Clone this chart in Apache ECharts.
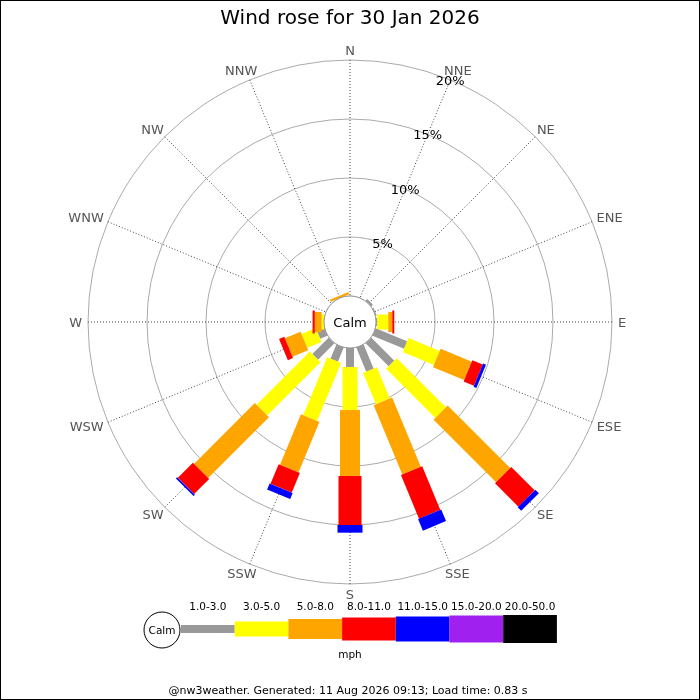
<!DOCTYPE html>
<html><head><meta charset="utf-8">
<script src="https://cdn.jsdelivr.net/npm/echarts@6/dist/echarts.min.js"></script>
<style>
html,body{margin:0;padding:0;background:#fff}
#c{width:700px;height:700px}
#f{position:absolute;left:0;top:0;width:700px;height:700px;box-sizing:border-box;border:1px solid #000;pointer-events:none}
</style>
</head><body><div id="c"></div><div id="f"></div>
<script>
// ---- data ----
const directions = ['N','NNE','NE','ENE','E','ESE','SE','SSE','S','SSW','SW','WSW','W','WNW','NW','NNW'];
const speedBins = ['1.0-3.0','3.0-5.0','5.0-8.0','8.0-11.0','11.0-15.0','15.0-20.0','20.0-50.0'];
// percentage of time per direction, per speed bin (mph)
const pct_1_3   = [0, 0, 0.2, 0.1, 0.1, 2.9, 2.77, 2.22, 1.61, 1.3, 1.97, 0.68, 0, 0, 0, 0];
const pct_3_5   = [0, 0, 0, 0, 0.94, 2.86, 5.89, 2.86, 3.64, 5.32, 6.39, 1.3, 0.2, 0, 0, 0];
const pct_5_8   = [0, 0, 0, 0, 0.34, 2.86, 7.49, 6.35, 5.6, 4.63, 7.29, 1.45, 0.58, 0, 0, 0.2];
const pct_8_11  = [0, 0, 0, 0, 0.17, 0.95, 2.8, 4.0, 4.15, 1.79, 1.8, 0.47, 0.19, 0, 0, 0];
const pct_11_15 = [0, 0, 0, 0, 0, 0.26, 0.42, 1.07, 0.65, 0.56, 0.15, 0, 0, 0, 0, 0];
const pct_15_20 = [0, 0, 0, 0, 0, 0, 0, 0, 0, 0, 0, 0, 0, 0, 0, 0];
const pct_20_50 = [0, 0, 0, 0, 0, 0, 0, 0, 0, 0, 0, 0, 0, 0, 0, 0];
const radialTicks = [5, 10, 15, 20];
const calmLabel = 'Calm';
const unitLabel = 'mph';
const titleText = 'Wind rose for 30 Jan 2026';
const footerText = '@nw3weather. Generated: 11 Aug 2026 09:13; Load time: 0.83 s';

// ---- style ----
const binSeries = [pct_1_3, pct_3_5, pct_5_8, pct_8_11, pct_11_15, pct_15_20, pct_20_50];
const binColors = ['#999999', '#ffff00', '#ffa500', '#ff0000', '#0000ff', '#a020f0', '#000000'];
const binWidths = [8, 15, 20, 23, 25, 27, 28];
const FONT = 'DejaVu Sans';
const CX = 350, CY = 322, R_IN = 26, R_OUT = 262;
const TY = 1.2; // small vertical text nudge
const STEP = 360 / directions.length;

// build segments [end, angle, start, binIndex]
const segs = [];
directions.forEach((d, i) => {
  let acc = 0;
  binSeries.forEach((arr, b) => {
    const v = arr[i];
    if (v > 0) { segs.push([acc + v, i * STEP, acc, b]); }
    acc += v;
  });
});

const measureCtx = document.createElement('canvas').getContext('2d');
function textW(t, size) { measureCtx.font = size + 'px ' + FONT; return measureCtx.measureText(t).width; }

const chart = echarts.init(document.getElementById('c'), null, {renderer: 'canvas'});

// legend graphics
const legendEls = [];
const LX = 181, LW = 53.7, LY = 629;
legendEls.push({type: 'circle', shape: {cx: 162, cy: 630, r: 18}, style: {fill: '#fff', stroke: '#000', lineWidth: 1}, z: 100});
legendEls.push({type: 'text', x: 162, y: 630 + TY, style: {text: calmLabel, font: '10.5px ' + FONT, fill: '#000', align: 'center', verticalAlign: 'middle'}, z: 101});
speedBins.forEach((lab, i) => {
  legendEls.push({type: 'rect', shape: {x: LX + i * LW, y: LY - binWidths[i] / 2, width: LW, height: binWidths[i]}, style: {fill: binColors[i]}, z: 100});
  legendEls.push({type: 'text', x: LX + i * LW + LW / 2, y: 606 + TY, style: {text: lab, font: '10.5px ' + FONT, fill: '#000', align: 'center', verticalAlign: 'middle'}, z: 100});
});
legendEls.push({type: 'text', x: 350, y: 654 + TY, style: {text: unitLabel, font: '10.5px ' + FONT, fill: '#000', align: 'center', verticalAlign: 'middle'}, z: 100});
legendEls.push({type: 'text', x: 348, y: 690 + TY, style: {text: footerText, font: '11px ' + FONT, fill: '#000', align: 'center', verticalAlign: 'middle'}, z: 100});
// calm circle
legendEls.push({type: 'circle', shape: {cx: CX, cy: CY, r: R_IN}, style: {fill: '#fff', stroke: '#999', lineWidth: 1}, z: 100});
legendEls.push({type: 'text', x: CX, y: CY + TY, style: {text: calmLabel, font: '13px ' + FONT, fill: '#000', align: 'center', verticalAlign: 'middle'}, z: 101});

const option = {
  animation: false,
  title: {text: titleText, left: 'center', top: 4, textStyle: {fontFamily: FONT, fontSize: 20, fontWeight: 'normal', color: '#000'}},
  polar: {center: [CX, CY], radius: [R_IN, R_OUT]},
  angleAxis: {
    type: 'value', min: 0, max: 360, interval: STEP, startAngle: 90, clockwise: true,
    axisLine: {show: false}, axisTick: {show: false}, axisLabel: {show: false},
    splitLine: {show: true, lineStyle: {color: '#444', width: 1, type: [1, 2]}}
  },
  radiusAxis: {
    type: 'value', min: 0, max: 20, interval: 5,
    axisLine: {show: false}, axisTick: {show: false}, axisLabel: {show: false},
    splitLine: {show: true, lineStyle: {color: '#aaa', width: 1}}
  },
  graphic: {elements: legendEls},
  series: [
    {
      type: 'custom', coordinateSystem: 'polar', data: segs, z: 5,
      renderItem: function (params, api) {
        const r1 = api.value(0), a = api.value(1), r0 = api.value(2), b = api.value(3);
        const p0 = api.coord([r0, a]), p1 = api.coord([r1, a]);
        const q0 = api.coord([0, a]), q1 = api.coord([20, a]);
        const L = Math.hypot(q1[0] - q0[0], q1[1] - q0[1]);
        const ux = (q1[0] - q0[0]) / L, uy = (q1[1] - q0[1]) / L;
        const nx = -uy, ny = ux, h = binWidths[b] / 2;
        return {
          type: 'polygon',
          shape: {points: [
            [p0[0] + nx * h, p0[1] + ny * h], [p1[0] + nx * h, p1[1] + ny * h],
            [p1[0] - nx * h, p1[1] - ny * h], [p0[0] - nx * h, p0[1] - ny * h]]},
          style: {fill: binColors[b]}
        };
      }
    },
    {
      // direction labels
      type: 'custom', coordinateSystem: 'polar', z: 6, silent: true,
      data: directions.map((d, i) => [20, i * STEP, i]),
      renderItem: function (params, api) {
        const a = api.value(1), idx = api.value(2);
        const q0 = api.coord([0, a]), q1 = api.coord([20, a]);
        const L = Math.hypot(q1[0] - q0[0], q1[1] - q0[1]);
        const ux = (q1[0] - q0[0]) / L, uy = (q1[1] - q0[1]) / L;
        const t = directions[idx];
        const hw = textW(t, 13) / 2, hh = 4, m = 6;
        return {type: 'text', x: q1[0] + ux * (m + hw), y: q1[1] + uy * (m + hh) + TY,
          style: {text: t, font: '13px ' + FONT, fill: '#555', align: 'center', verticalAlign: 'middle'}};
      }
    },
    {
      // radial percentage labels along NNE
      type: 'custom', coordinateSystem: 'polar', z: 7, silent: true,
      data: radialTicks.map(v => [v, STEP]),
      renderItem: function (params, api) {
        const p = api.coord([api.value(0), api.value(1)]);
        return {type: 'text', x: p[0], y: p[1] + TY,
          style: {text: api.value(0) + '%', font: '13px ' + FONT, fill: '#000', align: 'center', verticalAlign: 'middle'}};
      }
    }
  ]
};
chart.setOption(option);
</script>
</body></html>
